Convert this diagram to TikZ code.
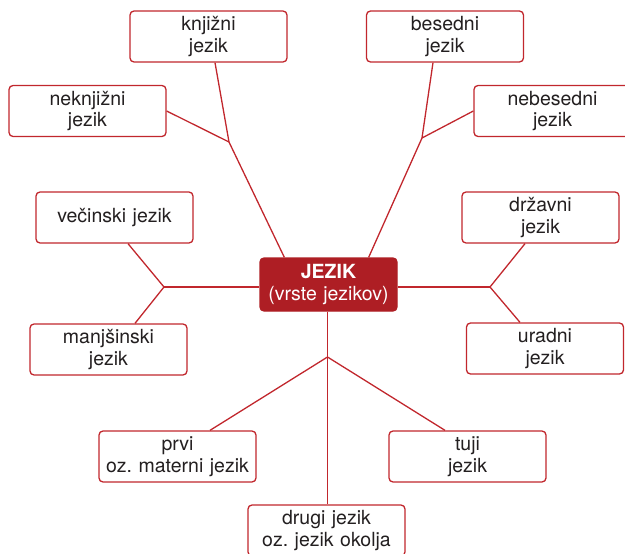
\documentclass[tikz,border=0pt]{standalone}
\usepackage{fontspec}
\setmainfont{TeX Gyre Heros}
\usepackage{tikz}
\frenchspacing

\definecolor{boxred}{HTML}{C1272D}
\definecolor{darkred}{HTML}{AE1E24}
\definecolor{textgray}{HTML}{231F20}

\begin{document}
\begin{tikzpicture}[x=1pt,y=-1pt,
	box/.style={draw=boxred, line width=1.3pt, rounded corners=4pt, fill=white,
		minimum width=157pt, minimum height=51pt, text width=155pt, align=center,
		inner sep=0pt, text=textgray, font=\fontsize{19.5}{21.5}\selectfont},
	link/.style={boxred, line width=1.3pt}]
	\useasboundingbox (0,0) rectangle (625,554);
	% Centre %
	\node (jezik) [box, fill=darkred, draw=darkred, text=white, minimum width=137pt,
		text width=135pt, minimum height=53pt] at (328.5,284.5)
		{\textbf{JEZIK}\\(vrste jezikov)};
	% Top Left %
	\node (knjizni) [box] at (208.5,36.5) {knjižni\\jezik};
	\node (neknjizni) [box] at (87.5,111) {neknjižni\\jezik};
	% Top Right %
	\node (besedni) [box] at (445,36.5) {besedni\\jezik};
	\node (nebesedni) [box] at (552.5,111) {nebesedni\\jezik};
	% Left %
	\node (vecinski) [box] at (114.5,217.5) {večinski jezik};
	\node (manjsinski) [box] at (108.5,349.5) {manjšinski\\jezik};
	% Right %
	\node (drzavni) [box] at (540.5,217.5) {državni\\jezik};
	\node (uradni) [box] at (545,348.5) {uradni\\jezik};
	% Bottom %
	\node (prvi) [box] at (177.5,456.5) {prvi\\oz. materni jezik};
	\node (tuji) [box] at (467.5,456.5) {tuji\\jezik};
	\node (drugi) [box] at (326.5,530.5) {drugi jezik\\oz. jezik okolja};
	% Junctions %
	\coordinate (topleftjoin) at (229,142);
	\coordinate (toprightjoin) at (422,138);
	\coordinate (leftjoin) at (164,287);
	\coordinate (rightjoin) at (490,287);
	\coordinate (bottomjoin) at (327.5,357);
	% Links %
	\draw [link] ([xshift=6.5pt]knjizni.south) -- (topleftjoin) -- ([xshift=25pt]jezik.north west);
	\draw [link] (neknjizni.east) -- (topleftjoin);
	\draw [link] ([xshift=-12pt]besedni.south) -- (toprightjoin) -- ([xshift=-29pt]jezik.north east);
	\draw [link] (nebesedni.west) -- (toprightjoin);
	\draw [link] ([xshift=13.5pt]vecinski.south) -- (leftjoin) -- ([xshift=26.5pt]manjsinski.north);
	\draw [link] (leftjoin) -- (jezik.west |- leftjoin);
	\draw [link] ([xshift=-15.5pt]drzavni.south) -- (rightjoin) -- ([xshift=-25pt]uradni.north);
	\draw [link] (rightjoin) -- (jezik.east |- rightjoin);
	\draw [link] (jezik.south -| bottomjoin) -- (drugi.north -| bottomjoin);
	\draw [link] ([xshift=32.5pt]prvi.north) -- (bottomjoin) -- ([xshift=-22.5pt]tuji.north);
\end{tikzpicture}
\end{document}
